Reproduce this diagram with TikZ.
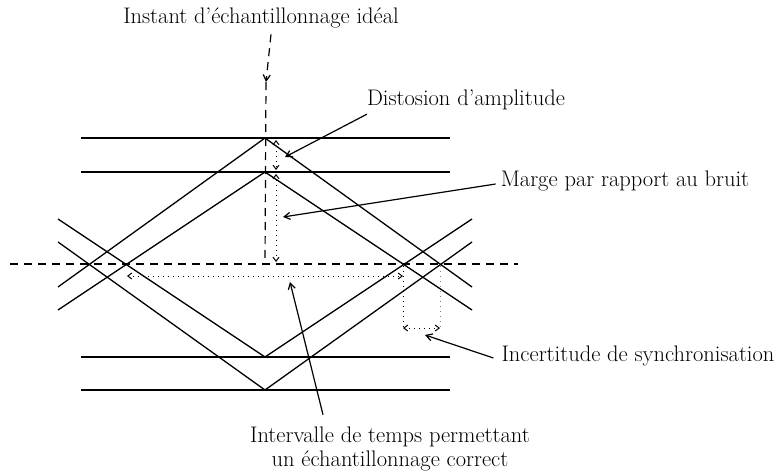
\documentclass[tikz,border=0pt]{standalone}
\usepackage{fontspec}
\usetikzlibrary{arrows.meta}
\begin{document}
\begin{tikzpicture}[x=1pt,y=-1pt,
  trace/.style={line width=1.3pt},
  axis/.style={line width=1.2pt, dash pattern=on 8pt off 6pt},
  dots/.style={line width=1pt, dash pattern=on 1pt off 4pt},
  meas/.style={dots, {Straight Barb[length=4pt,width=6pt]}-{Straight Barb[length=4pt,width=6pt]}},
  lead/.style={line width=1.2pt, -{Straight Barb[length=6pt,width=7pt]}},
  lbl/.style={font=\fontsize{22.5}{24}\selectfont, inner sep=0pt, align=center}]
\useasboundingbox (0,0) rectangle (782,474);

% eye-diagram points
\coordinate (A1) at (265,138); \coordinate (A2) at (265,172);
\coordinate (B1) at (265,357); \coordinate (B2) at (265,390);
\coordinate (L1) at (58,219); \coordinate (L2) at (58,242);
\coordinate (L3) at (58,287); \coordinate (L4) at (58,310);
\coordinate (R1) at (472,219); \coordinate (R2) at (472,242);
\coordinate (R3) at (472,287); \coordinate (R4) at (472,310);

% horizontal levels
\foreach \y in {138,172,357,390} \draw[trace] (81,\y) -- (450,\y);
% transitions
\draw[trace] (L3) -- (A1) -- (R3);
\draw[trace] (L4) -- (A2) -- (R4);
\draw[trace] (L1) -- (B1) -- (R1);
\draw[trace] (L2) -- (B2) -- (R2);

% axes
\coordinate (hl) at (10,264); \coordinate (hr) at (518,264);
\draw[axis] (hl) -- (hr);
\coordinate (vt) at (266,82); \coordinate (vb) at (265,264);
\draw[axis] (vt) -- (vb);

% labels
\node[lbl] (inst) at (261,18) {Instant d'échantillonnage idéal};
\node[lbl] (dist) at (466,100) {Distosion d'amplitude};
\node[lbl] (marge) at (625,181) {Marge par rapport au bruit};
\node[lbl] (sync) at (638,356) {Incertitude de synchronisation};
\node[lbl] (interv) at (390,449) {Intervalle de temps permettant\\un échantillonnage correct};

% measurement markers
\coordinate (d1) at (276,140); \coordinate (d2) at (276,170);
\draw[meas] (d1) -- (d2);
\coordinate (m1) at (276,174); \coordinate (m2) at (276,262);
\draw[meas] (m1) -- (m2);
\coordinate (t1) at (127,276); \coordinate (t2) at (403,276);
\draw[meas] (t1) -- (t2);
\coordinate (s1) at (403,266); \coordinate (s2) at (403,328);
\coordinate (s3) at (440,266); \coordinate (s4) at (440,328);
\draw[dots] (s1) -- (s2);
\draw[dots, gray] (s3) -- (s4);
\draw[meas] (s2) -- (s4);

% leader arrows
\draw[lead, dash pattern=on 8pt off 6pt] (inst.south -| 271,0) ++(0,6) -- (vt);
\coordinate (distTip) at (285,157);
\draw[lead] (dist.south west) ++(0,4) -- (distTip);
\coordinate (margeTip) at (283,217);
\draw[lead] (marge.west) ++(-5,3) -- (margeTip);
\coordinate (syncTip) at (425,335);
\draw[lead] (sync.west) ++(-8,2) -- (syncTip);
\coordinate (intervTip) at (290,282);
\draw[lead] (interv.north -| 323,0) ++(0,-12) -- (intervTip);
\end{tikzpicture}
\end{document}
